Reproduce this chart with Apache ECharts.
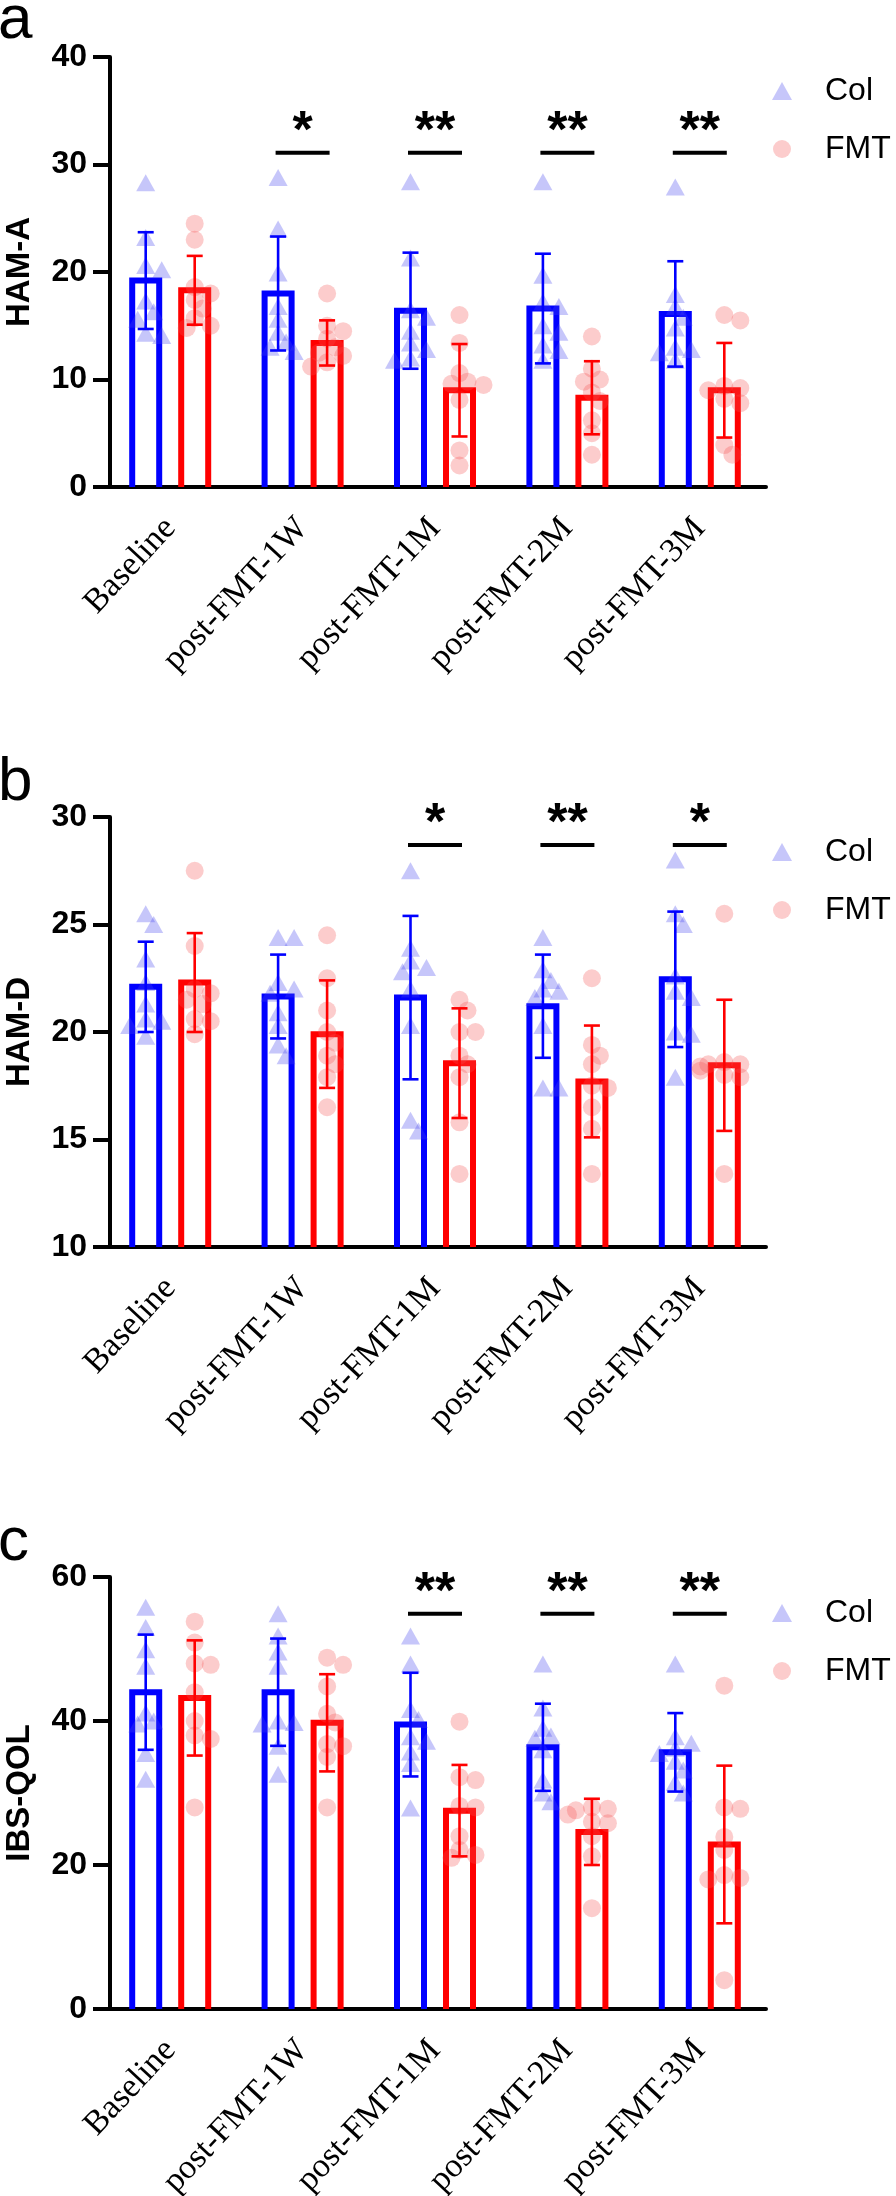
<!DOCTYPE html>
<html>
<head>
<meta charset="utf-8">
<script src="https://cdn.jsdelivr.net/npm/echarts@6/dist/echarts.min.js"></script>
<style>
  html, body { margin: 0; padding: 0; background: #fff; }
  #chart { width: 896px; height: 2196px; }
</style>
</head>
<body>
<div id="chart"></div>
<script>
// ---- data ----
var categories = ['Baseline', 'post-FMT-1W', 'post-FMT-1M', 'post-FMT-2M', 'post-FMT-3M'];

// a: HAM-A
var hamaTicks = [0, 10, 20, 30, 40];
var hamaColMean = [19.2, 18.0, 16.4, 16.6, 16.1];
var hamaColSd = [4.5, 5.3, 5.4, 5.1, 4.9];
var hamaFmtMean = [18.3, 13.4, 9.0, 8.3, 9.0];
var hamaFmtSd = [3.2, 2.1, 4.3, 3.4, 4.4];
var hamaColPts = [
  [28.3, 23.2, 20.6, 20.2, 17.3, 16.3, 15.6, 14.3, 14.1],
  [28.8, 24.0, 19.9, 16.8, 15.6, 14.4, 13.5, 13.0, 12.6],
  [28.4, 21.3, 16.5, 15.8, 14.5, 13.4, 12.8, 12.0, 11.8],
  [28.4, 19.7, 17.2, 16.8, 15.0, 14.4, 13.2, 12.7, 11.8],
  [27.9, 17.9, 16.8, 15.8, 14.8, 13.0, 12.8, 12.5, 11.8]
];
var hamaFmtPts = [
  [24.5, 23.0, 18.6, 18.0, 17.4, 16.6, 15.7, 15.0, 14.8],
  [18.0, 15.0, 14.5, 13.8, 13.0, 12.5, 12.2, 11.6, 11.2],
  [16.0, 13.4, 10.6, 9.8, 9.6, 9.5, 8.1, 3.4, 2.0],
  [14.0, 11.0, 10.0, 9.8, 8.8, 8.0, 6.2, 5.0, 3.0],
  [16.0, 15.5, 9.4, 9.2, 9.0, 8.2, 7.8, 3.9, 3.0]
];
var hamaStars = ['', '*', '**', '**', '**'];

// b: HAM-D
var hamdTicks = [10, 15, 20, 25, 30];
var hamdColMean = [22.1, 21.65, 21.6, 21.2, 22.45];
var hamdColSd = [2.1, 1.95, 3.8, 2.4, 3.15];
var hamdFmtMean = [22.3, 19.9, 18.55, 17.7, 18.45];
var hamdFmtSd = [2.3, 2.5, 2.55, 2.6, 3.05];
var hamdColPts = [
  [25.5, 25.0, 23.4, 22.3, 21.3, 20.6, 20.5, 20.3, 19.8],
  [24.4, 24.4, 22.3, 22.0, 21.8, 20.9, 20.3, 19.4, 18.9],
  [27.5, 23.9, 23.3, 23.0, 22.8, 22.0, 20.3, 15.9, 15.4],
  [24.4, 22.9, 22.4, 22.0, 21.9, 21.6, 20.3, 17.4, 17.4],
  [28.0, 25.5, 25.0, 22.6, 21.9, 21.6, 20.0, 19.9, 17.9]
];
var hamdFmtPts = [
  [27.5, 24.0, 22.0, 21.8, 21.5, 21.3, 20.6, 20.5, 19.9],
  [24.5, 22.5, 21.0, 20.0, 19.5, 18.9, 18.5, 17.9, 16.5],
  [21.5, 21.0, 20.0, 20.0, 18.9, 18.5, 17.9, 15.8, 13.4],
  [22.5, 19.4, 18.9, 18.5, 17.5, 17.4, 16.5, 15.5, 13.4],
  [25.5, 18.6, 18.5, 18.5, 18.4, 18.2, 18.0, 17.9, 13.4]
];
var hamdStars = ['', '', '*', '**', '*'];

// c: IBS-QOL
var qolTicks = [0, 20, 40, 60];
var qolColMean = [44.0, 44.0, 39.5, 36.35, 35.65];
var qolColSd = [8.0, 7.45, 7.2, 6.05, 5.45];
var qolFmtMean = [43.2, 39.75, 27.55, 24.6, 22.85];
var qolFmtSd = [8.0, 6.75, 6.35, 4.6, 10.95];
var qolColPts = [
  [55.8, 53.0, 49.9, 47.6, 41.1, 40.0, 39.6, 35.5, 31.9],
  [54.9, 51.8, 49.6, 47.6, 40.0, 39.8, 39.6, 36.5, 32.6],
  [51.8, 47.9, 41.6, 40.2, 37.8, 37.2, 35.7, 34.1, 27.9],
  [47.9, 41.8, 39.0, 37.9, 37.6, 36.0, 31.8, 30.0, 28.8],
  [47.9, 37.8, 36.9, 36.2, 35.5, 34.4, 33.2, 31.5, 30.0]
];
var qolFmtPts = [
  [53.8, 50.9, 48.0, 47.8, 44.0, 40.0, 38.0, 37.5, 28.0],
  [48.8, 47.8, 44.8, 41.0, 39.8, 36.8, 36.5, 35.0, 28.0],
  [39.9, 32.2, 31.8, 28.2, 28.0, 24.0, 22.1, 21.4, 21.0],
  [28.0, 27.8, 27.6, 27.0, 26.0, 25.8, 24.0, 21.2, 14.0],
  [44.9, 28.0, 27.8, 23.9, 22.1, 18.6, 18.2, 18.0, 4.0]
];
var qolStars = ['', '', '**', '**', '**'];

// ---- layout / style ----
var BLUE = '#0000ff', RED = '#ff0000';
var PT_BLUE = 'rgba(70,70,240,0.38)', PT_RED = 'rgba(245,80,80,0.36)';
var BAR_W = 27;          // distance between the centres of the two side strokes
var BAR_LINE = 6;        // outline thickness
var OFF = 24.5;          // bar centre offset from the category centre

var panels = [
  { letter: 'a', name: 'HAM-A', top: 57, height: 430, ticks: hamaTicks, sigY: 31.1,
    colMean: hamaColMean, colSd: hamaColSd, fmtMean: hamaFmtMean, fmtSd: hamaFmtSd,
    colPts: hamaColPts, fmtPts: hamaFmtPts, stars: hamaStars, letterY: -10, legendTop: 66 },
  { letter: 'b', name: 'HAM-D', top: 817, height: 430, ticks: hamdTicks, sigY: 28.7,
    colMean: hamdColMean, colSd: hamdColSd, fmtMean: hamdFmtMean, fmtSd: hamdFmtSd,
    colPts: hamdColPts, fmtPts: hamdFmtPts, stars: hamdStars, letterY: 752, legendTop: 827 },
  { letter: 'c', name: 'IBS-QOL', top: 1577, height: 432, ticks: qolTicks, sigY: 54.9,
    colMean: qolColMean, colSd: qolColSd, fmtMean: qolFmtMean, fmtSd: qolFmtSd,
    colPts: qolColPts, fmtPts: qolFmtPts, stars: qolStars, letterY: 1512, legendTop: 1588 }
];

// spread overlapping dots sideways (simple beeswarm in pixel space)
function swarm(values, pxPerUnit) {
  var placed = [], offs = [];
  var cands = [0, 8, -8, 16, -16, 24, -24];
  values.forEach(function (v) {
    var pick = cands[cands.length - 1];
    for (var c = 0; c < cands.length; c++) {
      var ok = placed.every(function (p) {
        var dx = p.x - cands[c], dy = (p.v - v) * pxPerUnit;
        return dx * dx + dy * dy >= 11 * 11;
      });
      if (ok) { pick = cands[c]; break; }
    }
    placed.push({ x: pick, v: v });
    offs.push(pick);
  });
  return offs;
}

function dotData(pts, base, pxPerUnit) {
  var out = [];
  pts.forEach(function (vals, i) {
    var offs = swarm(vals, pxPerUnit);
    vals.forEach(function (v, j) {
      out.push({ value: [i, v], symbolOffset: [base + offs[j], 0] });
    });
  });
  return out;
}

// open outlined bar (no bottom edge), like the Prism style
function barRender(off, color, baseVal) {
  return function (params, api) {
    var i = api.value(0), m = api.value(1);
    var top = api.coord([i, m]), bot = api.coord([i, baseVal]);
    var cx = top[0] + off, h = BAR_W / 2;
    return { type: 'polyline',
      shape: { points: [[cx - h, bot[1]], [cx - h, top[1]], [cx + h, top[1]], [cx + h, bot[1]]] },
      style: { stroke: color, lineWidth: BAR_LINE, fill: null, lineJoin: 'miter' } };
  };
}

function errRender(off, color) {
  return function (params, api) {
    var i = api.value(0), m = api.value(1), s = api.value(2);
    var hi = api.coord([i, m + s]), lo = api.coord([i, m - s]);
    var x = hi[0] + off;
    var st = { stroke: color, lineWidth: 2.6 };
    return { type: 'group', children: [
      { type: 'line', shape: { x1: x, y1: hi[1], x2: x, y2: lo[1] }, style: st },
      { type: 'line', shape: { x1: x - 8, y1: hi[1], x2: x + 8, y2: hi[1] }, style: st },
      { type: 'line', shape: { x1: x - 8, y1: lo[1], x2: x + 8, y2: lo[1] }, style: st }
    ] };
  };
}

var option = {
  animation: false,
  backgroundColor: '#fff',
  grid: [], xAxis: [], yAxis: [], series: [], legend: [], graphic: []
};

panels.forEach(function (p, k) {
  var t = p.ticks;
  var pxPerUnit = p.height / (t[t.length - 1] - t[0]);
  option.grid.push({ left: 104, right: 130, top: p.top, height: p.height, outerBoundsMode: 'none' });
  option.xAxis.push({
    type: 'category', gridIndex: k, data: categories,
    axisLine: { lineStyle: { color: '#000', width: 4 } },
    axisTick: { alignWithLabel: true, length: 18, lineStyle: { color: '#000', width: 4 } },
    axisLabel: { interval: 0, rotate: 47, margin: 36, color: '#000',
      fontFamily: 'Liberation Serif', fontSize: 34 }
  });
  option.yAxis.push({
    type: 'value', gridIndex: k, min: t[0], max: t[t.length - 1], interval: t[1] - t[0],
    offset: -6, splitLine: { show: false },
    name: p.name, nameLocation: 'middle', nameGap: 74,
    nameTextStyle: { color: '#000', fontFamily: 'Liberation Sans', fontWeight: 'bold', fontSize: 33 },
    axisLine: { show: true, lineStyle: { color: '#000', width: 4 } },
    axisTick: { show: true, length: 17, lineStyle: { color: '#000', width: 4 } },
    axisLabel: { margin: 23, color: '#000', fontFamily: 'Liberation Sans', fontWeight: 'bold', fontSize: 32 }
  });

  option.series.push(
    { name: 'Col mean', type: 'custom', xAxisIndex: k, yAxisIndex: k, z: 2,
      data: p.colMean.map(function (m, i) { return [i, m]; }),
      encode: { x: 0, y: 1 }, renderItem: barRender(-OFF, BLUE, t[0]) },
    { name: 'FMT mean', type: 'custom', xAxisIndex: k, yAxisIndex: k, z: 2,
      data: p.fmtMean.map(function (m, i) { return [i, m]; }),
      encode: { x: 0, y: 1 }, renderItem: barRender(OFF, RED, t[0]) },
    { name: 'Col', type: 'scatter', xAxisIndex: k, yAxisIndex: k, symbol: 'triangle', symbolSize: [19, 17],
      data: dotData(p.colPts, -OFF, pxPerUnit), itemStyle: { color: PT_BLUE }, z: 3 },
    { name: 'FMT', type: 'scatter', xAxisIndex: k, yAxisIndex: k, symbol: 'circle', symbolSize: 18,
      data: dotData(p.fmtPts, OFF, pxPerUnit), itemStyle: { color: PT_RED }, z: 3 },
    { type: 'custom', xAxisIndex: k, yAxisIndex: k, z: 4,
      data: p.colMean.map(function (m, i) { return [i, m, p.colSd[i]]; }),
      encode: { x: 0, y: 1 }, renderItem: errRender(-OFF, BLUE) },
    { type: 'custom', xAxisIndex: k, yAxisIndex: k, z: 4,
      data: p.fmtMean.map(function (m, i) { return [i, m, p.fmtSd[i]]; }),
      encode: { x: 0, y: 1 }, renderItem: errRender(OFF, RED) },
    { type: 'custom', xAxisIndex: k, yAxisIndex: k, z: 5, clip: false,
      data: p.stars.map(function (s, i) { return s ? [i, p.sigY] : null; }).filter(Boolean),
      encode: { x: 0, y: 1 },
      renderItem: function (params, api) {
        var i = api.value(0);
        var c = api.coord([i, api.value(1)]);
        return { type: 'group', children: [
          { type: 'line', shape: { x1: c[0] - 27, y1: c[1], x2: c[0] + 27, y2: c[1] },
            style: { stroke: '#000', lineWidth: 4 } },
          { type: 'text', x: c[0], y: c[1] - 20,
            style: { text: p.stars[i], fill: '#000', align: 'center', verticalAlign: 'middle',
              font: 'bold 52px "Liberation Sans"' } }
        ] };
      } }
  );

  option.legend.push({
    data: ['Col', 'FMT'], orient: 'vertical', left: 767, top: p.legendTop,
    selectedMode: false, itemWidth: 20, itemHeight: 18, itemGap: 18,
    textStyle: { color: '#000', fontFamily: 'Liberation Sans', fontSize: 32, lineHeight: 40,
      padding: [0, 0, 0, 28] }
  });

  option.graphic.push({
    type: 'text', left: -2, top: p.letterY,
    style: { text: p.letter, fill: '#000', font: '62px "Liberation Sans"' }
  });
});

var chart = echarts.init(document.getElementById('chart'), null, { renderer: 'canvas' });
chart.setOption(option);
</script>
</body>
</html>
